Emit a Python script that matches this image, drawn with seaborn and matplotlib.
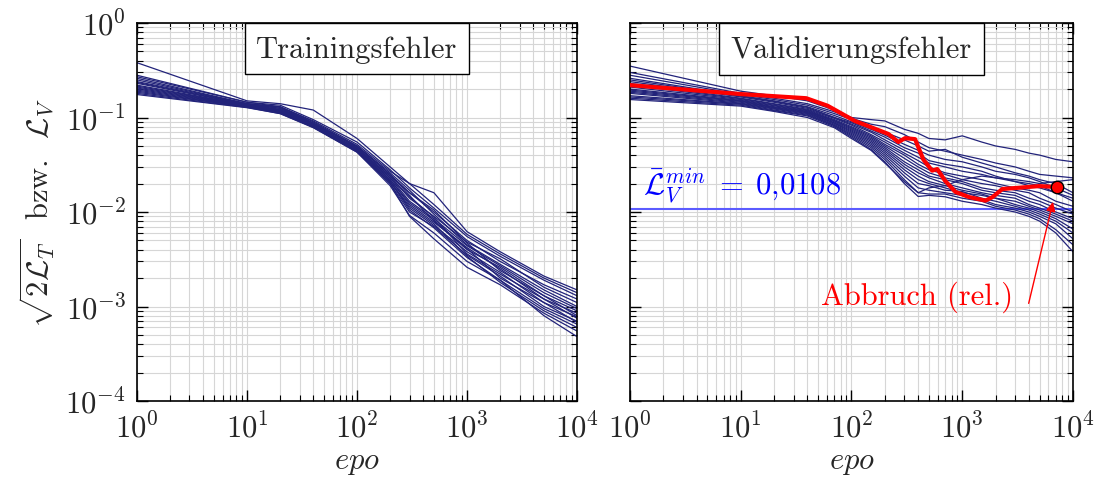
import numpy as np
import pandas as pd
import matplotlib
matplotlib.use("Agg")
import matplotlib.pyplot as plt
from matplotlib.ticker import LogLocator, NullFormatter
import seaborn as sns

epochs_train = [1, 10, 20, 40, 100, 200, 300, 500, 1000, 2000, 5000, 10000]
epochs_val = [1, 10, 20, 40, 70, 100, 150, 200, 300, 400, 500, 700,
              1000, 1500, 2000, 3000, 4000, 5000, 7000, 10000]

train_curves = [
    [0.38, 0.15, 0.14, 0.12, 0.060, 0.030, 0.020, 0.012, 0.0058, 0.0036, 0.0020, 0.0014],
    [0.28, 0.145, 0.135, 0.095, 0.055, 0.028, 0.018, 0.011, 0.0055, 0.0034, 0.0019, 0.0013],
    [0.27, 0.145, 0.13, 0.092, 0.052, 0.027, 0.020, 0.016, 0.0062, 0.0038, 0.0021, 0.0015],
    [0.26, 0.14, 0.13, 0.090, 0.050, 0.025, 0.016, 0.010, 0.0050, 0.0030, 0.0017, 0.0012],
    [0.25, 0.14, 0.128, 0.088, 0.048, 0.024, 0.014, 0.009, 0.0048, 0.0032, 0.0016, 0.0011],
    [0.24, 0.14, 0.125, 0.087, 0.050, 0.026, 0.017, 0.0095, 0.0045, 0.0028, 0.0015, 0.0010],
    [0.235, 0.138, 0.125, 0.085, 0.047, 0.023, 0.013, 0.0085, 0.0044, 0.0027, 0.0014, 0.00095],
    [0.23, 0.137, 0.122, 0.086, 0.049, 0.025, 0.015, 0.0080, 0.0040, 0.0026, 0.0013, 0.0009],
    [0.22, 0.136, 0.12, 0.084, 0.046, 0.022, 0.012, 0.0078, 0.0042, 0.0025, 0.0012, 0.00085],
    [0.215, 0.135, 0.12, 0.083, 0.047, 0.024, 0.016, 0.0105, 0.0047, 0.0024, 0.0013, 0.0008],
    [0.21, 0.134, 0.118, 0.082, 0.045, 0.021, 0.011, 0.0072, 0.0038, 0.0023, 0.0011, 0.00078],
    [0.205, 0.133, 0.117, 0.083, 0.046, 0.023, 0.0145, 0.0088, 0.0036, 0.0022, 0.0012, 0.00075],
    [0.20, 0.132, 0.115, 0.080, 0.044, 0.020, 0.010, 0.0070, 0.0035, 0.0021, 0.0010, 0.0007],
    [0.195, 0.131, 0.114, 0.081, 0.045, 0.022, 0.0125, 0.0082, 0.0041, 0.0020, 0.0011, 0.00068],
    [0.19, 0.13, 0.113, 0.079, 0.043, 0.019, 0.0092, 0.0060, 0.0030, 0.0019, 0.00095, 0.00065],
    [0.185, 0.13, 0.112, 0.080, 0.044, 0.021, 0.0115, 0.0075, 0.0034, 0.0018, 0.0009, 0.0006],
    [0.18, 0.128, 0.11, 0.078, 0.043, 0.020, 0.0090, 0.0052, 0.0026, 0.0017, 0.00085, 0.00055],
    [0.175, 0.127, 0.11, 0.079, 0.044, 0.021, 0.0105, 0.0068, 0.0033, 0.0019, 0.0008, 0.00048],
]

val_curves = [
    [0.35, 0.19, 0.17, 0.15, 0.12, 0.10, 0.095, 0.092, 0.075, 0.068, 0.060, 0.058, 0.064, 0.055, 0.050, 0.046, 0.042, 0.040, 0.036, 0.034],
    [0.30, 0.18, 0.16, 0.14, 0.115, 0.098, 0.085, 0.080, 0.066, 0.055, 0.048, 0.044, 0.040, 0.036, 0.033, 0.030, 0.027, 0.025, 0.024, 0.023],
    [0.28, 0.175, 0.155, 0.135, 0.11, 0.095, 0.080, 0.070, 0.058, 0.050, 0.044, 0.046, 0.038, 0.033, 0.030, 0.026, 0.024, 0.022, 0.020, 0.016],
    [0.26, 0.17, 0.15, 0.13, 0.105, 0.090, 0.075, 0.065, 0.052, 0.045, 0.040, 0.036, 0.034, 0.030, 0.027, 0.025, 0.023, 0.021, 0.018, 0.015],
    [0.25, 0.168, 0.148, 0.128, 0.10, 0.088, 0.072, 0.062, 0.048, 0.042, 0.035, 0.032, 0.030, 0.027, 0.024, 0.021, 0.019, 0.018, 0.016, 0.013],
    [0.24, 0.165, 0.145, 0.125, 0.10, 0.085, 0.070, 0.058, 0.045, 0.038, 0.033, 0.030, 0.027, 0.025, 0.023, 0.021, 0.020, 0.019, 0.016, 0.014],
    [0.23, 0.16, 0.14, 0.122, 0.098, 0.083, 0.066, 0.055, 0.042, 0.035, 0.030, 0.026, 0.024, 0.022, 0.020, 0.018, 0.017, 0.016, 0.013, 0.0115],
    [0.22, 0.158, 0.138, 0.12, 0.095, 0.080, 0.064, 0.052, 0.040, 0.032, 0.028, 0.025, 0.022, 0.020, 0.019, 0.017, 0.016, 0.014, 0.012, 0.010],
    [0.21, 0.155, 0.135, 0.118, 0.093, 0.078, 0.062, 0.050, 0.037, 0.030, 0.026, 0.023, 0.021, 0.018, 0.017, 0.016, 0.014, 0.013, 0.011, 0.0095],
    [0.20, 0.152, 0.133, 0.116, 0.092, 0.076, 0.060, 0.048, 0.034, 0.028, 0.024, 0.022, 0.020, 0.017, 0.016, 0.015, 0.013, 0.012, 0.010, 0.0085],
    [0.195, 0.15, 0.13, 0.115, 0.090, 0.074, 0.058, 0.046, 0.032, 0.026, 0.023, 0.020, 0.018, 0.016, 0.015, 0.014, 0.012, 0.011, 0.0095, 0.0080],
    [0.19, 0.148, 0.128, 0.113, 0.088, 0.072, 0.056, 0.044, 0.030, 0.024, 0.021, 0.019, 0.017, 0.0155, 0.014, 0.013, 0.0115, 0.0105, 0.009, 0.0075],
    [0.185, 0.145, 0.127, 0.112, 0.087, 0.070, 0.054, 0.042, 0.028, 0.022, 0.020, 0.018, 0.016, 0.015, 0.014, 0.012, 0.011, 0.010, 0.0085, 0.0066],
    [0.18, 0.142, 0.125, 0.11, 0.085, 0.068, 0.052, 0.040, 0.026, 0.020, 0.019, 0.017, 0.0165, 0.014, 0.013, 0.0115, 0.0105, 0.0095, 0.008, 0.0060],
    [0.17, 0.14, 0.123, 0.108, 0.083, 0.066, 0.050, 0.038, 0.024, 0.018, 0.017, 0.016, 0.015, 0.0135, 0.012, 0.011, 0.010, 0.009, 0.0075, 0.0052],
    [0.165, 0.138, 0.12, 0.106, 0.082, 0.064, 0.048, 0.036, 0.022, 0.016, 0.0155, 0.0155, 0.014, 0.013, 0.0115, 0.0105, 0.0095, 0.0085, 0.0065, 0.0045],
    [0.16, 0.135, 0.118, 0.104, 0.080, 0.062, 0.046, 0.034, 0.020, 0.0146, 0.015, 0.0145, 0.013, 0.012, 0.011, 0.010, 0.009, 0.008, 0.006, 0.0038],
    [0.155, 0.132, 0.116, 0.10, 0.078, 0.060, 0.045, 0.033, 0.021, 0.016, 0.018, 0.019, 0.022, 0.024, 0.023, 0.022, 0.021, 0.020, 0.021, 0.022],
]

# highlighted run (mean validation error) until the relative stop criterion
red_epochs = [1, 10, 39, 61, 107, 150, 215, 265, 305, 375, 445, 535, 595, 700,
              870, 1150, 1620, 1880, 2300, 3500, 4950, 7160]
red_values = [0.22, 0.177, 0.16, 0.133, 0.092, 0.079, 0.067, 0.055, 0.0605, 0.059,
              0.036, 0.0274, 0.0285, 0.0214, 0.0163, 0.0144, 0.0132, 0.0144, 0.0175,
              0.0182, 0.0188, 0.0184]
stop_epoch = 7160
stop_value = 0.0184
l_min = 0.0108

navy = "#22237a"

sns.set_theme(style="ticks")
plt.rcParams["font.family"] = "serif"
plt.rcParams["font.serif"] = ["cmr10"]
plt.rcParams["mathtext.fontset"] = "cm"
plt.rcParams["axes.formatter.use_mathtext"] = True
plt.rcParams["axes.unicode_minus"] = True

fs = 22


def to_long(xs, curves):
    rows = []
    for i, c in enumerate(curves):
        for x, y in zip(xs, c):
            rows.append((i, x, y))
    return pd.DataFrame(rows, columns=["run", "epo", "err"])


df_train = to_long(epochs_train, train_curves)
df_val = to_long(epochs_val, val_curves)
df_red = pd.DataFrame({"epo": red_epochs, "err": red_values})

fig = plt.figure(figsize=(10.97, 4.81), dpi=100)
ax1 = fig.add_axes([0.1249, 0.1642, 0.4011, 0.7859])
ax2 = fig.add_axes([0.5743, 0.1642, 0.4038, 0.7859])

sns.lineplot(data=df_train, x="epo", y="err", units="run", estimator=None,
             color=navy, lw=0.9, ax=ax1, legend=False)
sns.lineplot(data=df_val, x="epo", y="err", units="run", estimator=None,
             color=navy, lw=0.9, ax=ax2, legend=False)
ax2.axhline(l_min, color="#5b5bff", lw=1.5, zorder=1.5)
sns.lineplot(data=df_red, x="epo", y="err", color="red", lw=3, ax=ax2,
             legend=False, zorder=5)
sns.scatterplot(x=[stop_epoch], y=[stop_value], color="red", edgecolor="black",
                s=80, linewidth=1, ax=ax2, zorder=6, legend=False)

for ax, title in [(ax1, "Trainingsfehler"), (ax2, "Validierungsfehler")]:
    ax.set_xscale("log")
    ax.set_yscale("log")
    ax.set_xlim(1, 1e4)
    ax.set_ylim(1e-4, 1)
    for axis in (ax.xaxis, ax.yaxis):
        axis.set_major_locator(LogLocator(base=10, numticks=20))
        axis.set_minor_locator(LogLocator(base=10, subs=np.arange(2, 10), numticks=50))
        axis.set_minor_formatter(NullFormatter())
    ax.grid(True, which="both", color="#d6d6d6", lw=0.8)
    ax.set_axisbelow(True)
    ax.tick_params(which="both", direction="in", top=True, right=True,
                   labelsize=fs, color="black")
    ax.tick_params(which="major", length=8, width=1, pad=8)
    ax.tick_params(which="minor", length=4, width=0.8)
    for s in ax.spines.values():
        s.set_color("black")
        s.set_linewidth(1.2)
    ax.set_xlabel(r"$epo$", fontsize=fs, labelpad=4)
    ax.set_ylabel("")
    ax.text(0.5, 0.968, title, transform=ax.transAxes, ha="center", va="top",
            fontsize=fs, zorder=10,
            bbox=dict(boxstyle="square,pad=0.38", fc="white", ec="black", lw=1))

ax1.set_ylabel(r"$\sqrt{2\mathcal{L}_T}$  bzw.  $\mathcal{L}_V$", fontsize=fs, labelpad=6)
ax2.tick_params(labelleft=False)

ax2.text(1.3, 0.0155, r"$\bar{\mathcal{L}}_V^{min}\;=\;0{,}0108$", color="blue",
         fontsize=fs, ha="left", va="baseline", zorder=7)
ax2.text(2900, 0.00128, "Abbruch (rel.)", color="red", fontsize=fs,
         ha="right", va="center", zorder=7)
ax2.annotate("", xy=(6600, 0.0128), xytext=(3980, 0.00108),
             arrowprops=dict(arrowstyle="-|>", color="red", lw=1,
                             mutation_scale=14, shrinkA=0, shrinkB=0),
             zorder=7)

fig.savefig("out.png", dpi=100)
